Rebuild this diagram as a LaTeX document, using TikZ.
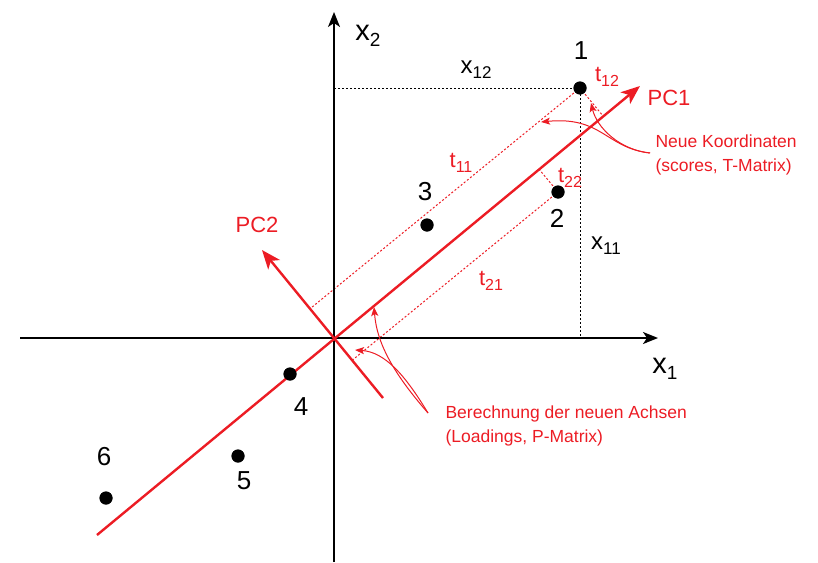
\documentclass[tikz,border=0pt]{standalone}
\usepackage{fontspec}
\setmainfont{Liberation Sans}
\usetikzlibrary{arrows.meta,calc}
\definecolor{pcred}{RGB}{236,28,36}
\newcommand{\mysb}[2]{\raisebox{-0.2em}{\fontsize{#1}{#1}\selectfont #2}}
\tikzset{
  axis/.style={line width=1.8pt,-{Stealth[length=15pt,width=12pt,inset=4pt]}},
  pcaxis/.style={line width=2.4pt,pcred,-{Stealth[length=19pt,width=15pt,inset=5pt]}},
  pt/.style={circle,fill=black,inner sep=0pt,minimum size=13pt},
  num/.style={font=\fontsize{26}{28}\selectfont},
  axlab/.style={font=\fontsize{29}{31}\selectfont},
  xlab/.style={font=\fontsize{24}{26}\selectfont},
  tlab/.style={font=\fontsize{22}{24}\selectfont,text=pcred},
  pclab/.style={font=\fontsize{22}{24}\selectfont,text=pcred},
  note/.style={font=\fontsize{17.5}{23.5}\selectfont,text=pcred,align=left},
  bdot/.style={line width=1pt,dash pattern=on 2pt off 2pt},
  rdot/.style={line width=1pt,pcred,dash pattern=on 2pt off 2pt},
  notearrow/.style={line width=1pt,pcred,-{Stealth[length=9pt,width=7pt,inset=2pt]}}
}
\begin{document}
\begin{tikzpicture}[x=1pt,y=-1pt]
\useasboundingbox (0,0) rectangle (818,562);
% axes
\coordinate (O) at (334,338);
\coordinate (xl) at (20,338);
\coordinate (xr) at (658,338);
\coordinate (yb) at (334,562);
\coordinate (yt) at (334,12);
% PC axes ends
\coordinate (a1) at (97,535);
\coordinate (a2) at (640,86);
\coordinate (b1) at (383,398);
\coordinate (b2) at (262,250);
% data points
\node[pt] (p1) at (580,88) {};
\node[pt] (p2) at (558,192) {};
\node[pt] (p3) at (427,225) {};
\node[pt] (p4) at (290,374) {};
\node[pt] (p5) at (238,456) {};
\node[pt] (p6) at (106,498) {};
% projections
\coordinate (p1a) at ($(a1)!(p1)!(a2)$);
\coordinate (p1b) at ($(b1)!(p1)!(b2)$);
\coordinate (p2a) at ($(a1)!(p2)!(a2)$);
\coordinate (p2b) at ($(b1)!(p2)!(b2)$);
\coordinate (p1x) at (p1 |- O);
\coordinate (p1y) at (O |- p1);
% black dotted
\draw[bdot] (p1y) -- (p1.center) -- (p1x);
% red dotted
\draw[rdot] (p1.center) -- (p1a);
\draw[rdot] (p1.center) -- (p1b);
\draw[rdot] (p2.center) -- (p2a);
\draw[rdot] (p2.center) -- (p2b);
% axes
\draw[axis] (xl) -- (xr);
\draw[axis] (yb) -- (yt);
% PC axes
\draw[pcaxis] (a1) -- (a2);
\draw[pcaxis] (b1) -- (b2);
% redraw points on top
\foreach \p in {p1,p2,p3,p4,p5,p6} \fill (\p) circle (6.5pt);
% labels
\node[num] (l1) at (581,51) {1};
\node[num] (l2) at (557,218) {2};
\node[num] (l3) at (425,192) {3};
\node[num] (l4) at (301,407) {4};
\node[num] (l5) at (244,481) {5};
\node[num] (l6) at (104,457) {6};
\node[axlab] (lx1) at (665,369) {x\mysb{19}{1}};
\node[axlab] (lx2) at (368,36) {x\mysb{19}{2}};
\node[xlab] (lx12) at (476,70) {x\mysb{17}{12}};
\node[xlab] (lx11) at (606,246) {x\mysb{17}{11}};
\node[tlab] (lt12) at (607,77) {t\mysb{16}{12}};
\node[tlab] (lt11) at (461,163) {t\mysb{16}{11}};
\node[tlab] (lt22) at (570,178) {t\mysb{16}{22}};
\node[tlab] (lt21) at (491,281) {t\mysb{16}{21}};
\node[pclab] (lpc1) at (669,98) {PC1};
\node[pclab] (lpc2) at (257,225) {PC2};
\node[note,anchor=west] (n1) at (652,155) {Neue Koordinaten\\(scores, T-Matrix)};
\node[note,anchor=west] (n2) at (442,426) {Berechnung der neuen Achsen\\(Loadings, P-Matrix)};
% annotation arrows
\coordinate (c1) at (650,153);
\coordinate (c2) at (428,413);
\coordinate (e1) at (591,103);
\coordinate (e2) at (541,122);
\coordinate (e3) at (374,307);
\coordinate (e4) at (355,350);
\draw[notearrow] (c1) .. controls (620,150) and (597,128) .. (e1);
\draw[notearrow] (c1) .. controls (606,148) and (602,116) .. (e2);
\draw[notearrow] (c2) .. controls (395,375) and (377,345) .. (e3);
\draw[notearrow] (c2) .. controls (405,375) and (385,352) .. (e4);
\end{tikzpicture}
\end{document}
